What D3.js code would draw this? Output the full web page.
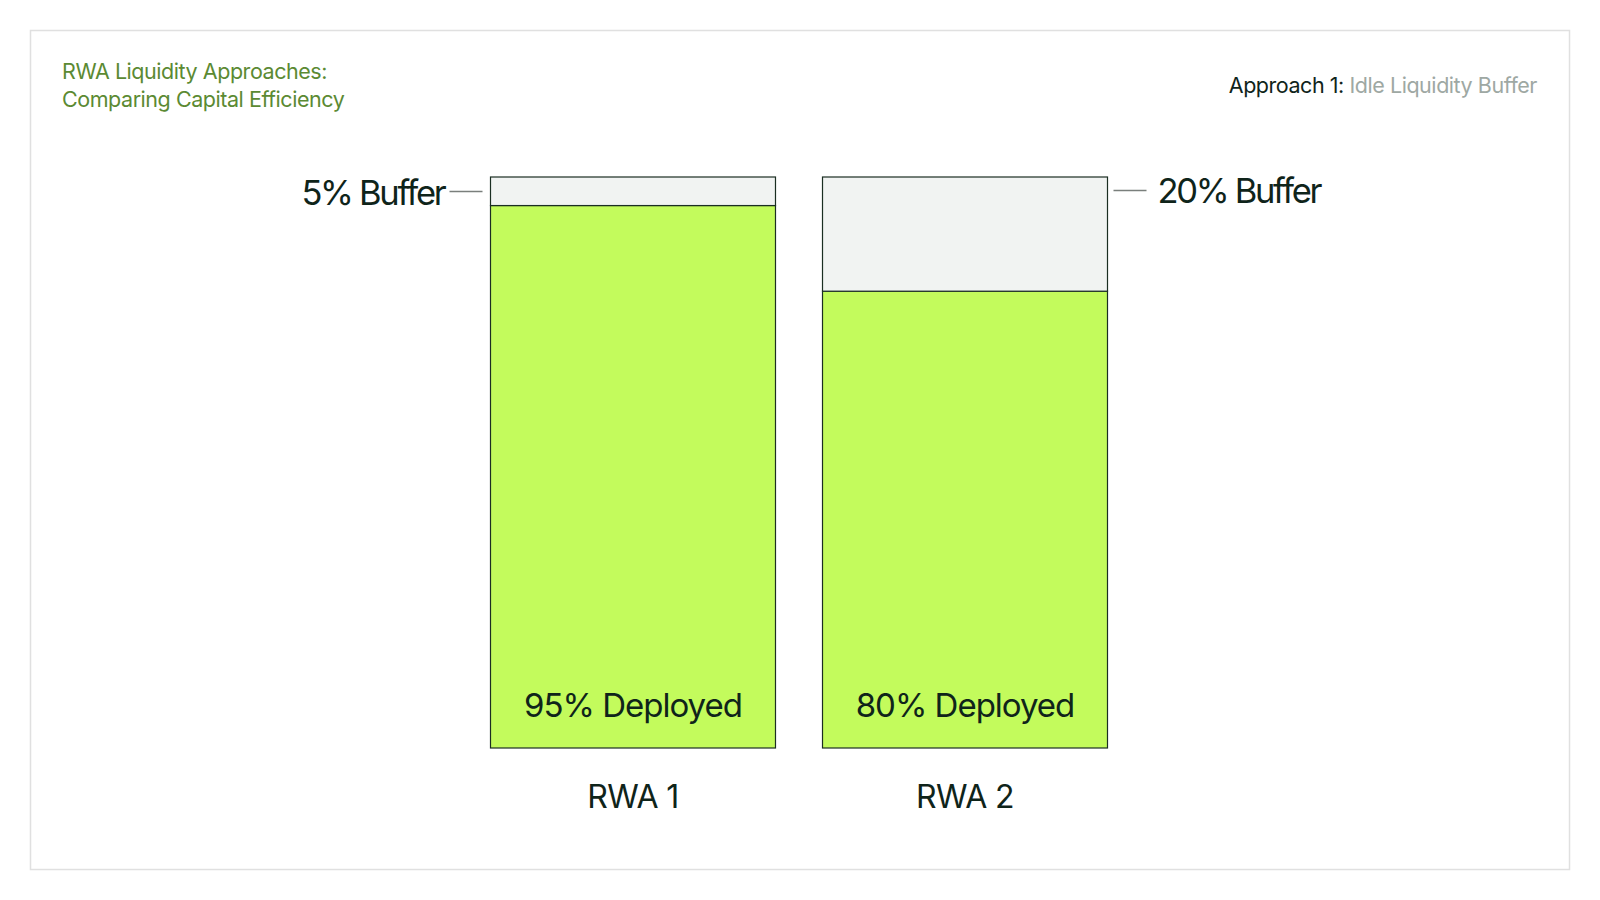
<!DOCTYPE html>
<html>
<head>
<meta charset="utf-8">
<script src="https://cdn.jsdelivr.net/npm/d3@7"></script>
<style>
  html, body { margin: 0; padding: 0; background: #ffffff; }
  svg { display: block; font-family: Inter, "Noto Sans", sans-serif; }
</style>
</head>
<body>
<svg id="chart" width="1600" height="900"></svg>
<script>
const categories = ["RWA 1", "RWA 2"];
const deployed = [95, 80];
const buffer = [5, 20];
const titleLines = ["RWA Liquidity Approaches:", "Comparing Capital Efficiency"];
const subtitleLead = "Approach 1: ";
const subtitleRest = "Idle Liquidity Buffer";

const svg = d3.select("#chart");

// frame
svg.append("rect")
  .attr("x", 30.5).attr("y", 30.5).attr("width", 1539).attr("height", 839)
  .attr("fill", "#ffffff").attr("stroke", "#e0e0e0").attr("stroke-width", 1.5);

// title
svg.append("g").selectAll("text").data(titleLines).join("text")
  .attr("x", 62).attr("y", (d, i) => 78.5 + i * 28.5)
  .attr("fill", "#5b8a33").attr("font-size", 21.5).attr("letter-spacing", -0.45)
  .text(d => d);

// subtitle right
const sub = svg.append("text")
  .attr("x", 1537).attr("y", 92.5).attr("text-anchor", "end")
  .attr("font-size", 21.5).attr("letter-spacing", -0.45);
sub.append("tspan").attr("fill", "#0f241a").text(subtitleLead);
sub.append("tspan").attr("fill", "#9ea8a3").text(subtitleRest);

const x = d3.scaleBand().domain(categories).range([490.5, 1107.5]).paddingInner(0.1416).paddingOuter(0);
const y = d3.scaleLinear().domain([0, 100]).range([748, 177]);

const data = categories.map((c, i) => ({ cat: c, deployed: deployed[i], buffer: buffer[i] }));

const g = svg.append("g");

// deployed (bottom)
g.selectAll("rect.dep").data(data).join("rect").attr("class", "dep")
  .attr("x", d => x(d.cat)).attr("width", x.bandwidth())
  .attr("y", d => y(d.deployed)).attr("height", d => y(0) - y(d.deployed))
  .attr("fill", "#c3fb5c").attr("stroke", "#1b2e22").attr("stroke-width", 1.2);

// buffer (top)
g.selectAll("rect.buf").data(data).join("rect").attr("class", "buf")
  .attr("x", d => x(d.cat)).attr("width", x.bandwidth())
  .attr("y", d => y(d.deployed + d.buffer)).attr("height", d => y(d.deployed) - y(d.deployed + d.buffer))
  .attr("fill", "#f1f3f2").attr("stroke", "#1b2e22").attr("stroke-width", 1.2);

// deployed labels
g.selectAll("text.dl").data(data).join("text").attr("class", "dl")
  .attr("x", d => x(d.cat) + x.bandwidth() / 2).attr("y", 717)
  .attr("text-anchor", "middle").attr("font-size", 33).attr("letter-spacing", -1)
  .attr("fill", "#0f241a")
  .text(d => `${d.deployed}% Deployed`);

// category labels
g.selectAll("text.cl").data(data).join("text").attr("class", "cl")
  .attr("x", d => x(d.cat) + x.bandwidth() / 2).attr("y", 808)
  .attr("text-anchor", "middle").attr("font-size", 32).attr("letter-spacing", -0.6)
  .attr("fill", "#0f241a")
  .text(d => d.cat);

// buffer callouts: first on left, second on right
data.forEach((d, i) => {
  const left = i === 0;
  const bx0 = x(d.cat), bx1 = x(d.cat) + x.bandwidth();
  const ly = left ? 191.5 : 190.5;
  const lineX0 = left ? bx0 - 41 : bx1 + 6;
  const lineX1 = left ? bx0 - 8 : bx1 + 39;
  g.append("line")
    .attr("x1", lineX0).attr("x2", lineX1).attr("y1", ly).attr("y2", ly)
    .attr("stroke", "#7a7f7c").attr("stroke-width", 1.5);
  g.append("text")
    .attr("x", left ? lineX0 - 5 : lineX1 + 11)
    .attr("y", left ? 204.5 : 203)
    .attr("text-anchor", left ? "end" : "start")
    .attr("font-size", 34.5).attr("letter-spacing", -2.3)
    .attr("fill", "#0f241a")
    .text(`${d.buffer}% Buffer`);
});
</script>
</body>
</html>
